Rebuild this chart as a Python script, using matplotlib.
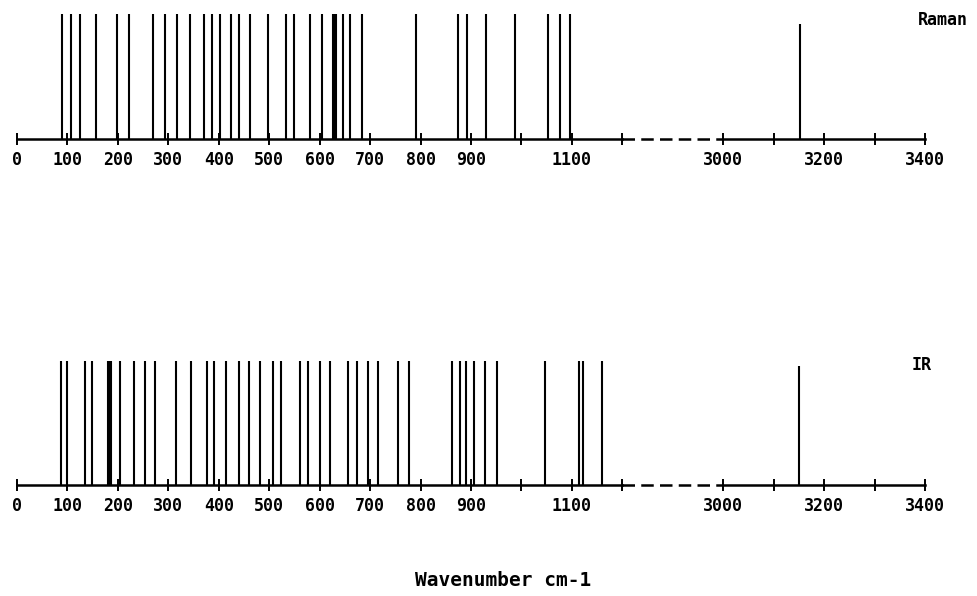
import numpy as np
from matplotlib import pyplot as plt

# line positions (cm-1), with relative heights
raman_wn = np.array([90, 107, 124, 156, 199, 222, 269, 293, 317, 342, 371, 387,
                     402, 424, 441, 462, 498, 534, 550, 580, 605, 626, 629, 632,
                     647, 660, 683, 790, 875, 892, 930, 987, 1053, 1077, 1097, 3153])
raman_int = np.ones(len(raman_wn))
raman_int[-1] = 0.92

ir_wn = np.array([87, 99, 135, 149, 180, 183, 187, 205, 232, 253, 274, 315, 345,
                  376, 390, 415, 440, 459, 482, 507, 524, 561, 576, 600, 621, 657,
                  675, 695, 716, 755, 778, 863, 879, 891, 906, 928, 951, 1047, 1115,
                  1123, 1160, 3151])
ir_int = np.ones(len(ir_wn))
ir_int[-1] = 0.96

tick_wn = [0, 100, 200, 300, 400, 500, 600, 700, 800, 900, 1000, 1100, 1200,
           3000, 3100, 3200, 3300, 3400]
tick_lab = ['0', '100', '200', '300', '400', '500', '600', '700', '800', '900', '',
            '1100', '', '3000', '', '3200', '', '3400']

def brk(x):
    # broken axis: 1200..3000 squeezed into a 200 wide gap
    x = np.asarray(x, dtype=float)
    return np.where(x <= 1200, x, x - 1600)

lab_font = dict(family='DejaVu Sans Mono', weight='bold', size=12)

fig = plt.figure(figsize=(9.78, 5.96), dpi=100)

def panel(rect, wn, inten, name, name_xy):
    ax = fig.add_axes(rect)
    ax.set_xlim(0, 1800)
    ax.set_ylim(0, 1)
    for s in ax.spines.values():
        s.set_visible(False)
    ax.vlines(brk(wn), 0, inten, color='k', lw=1.5, clip_on=False)
    ax.plot(brk([0, 1200]), [0, 0], color='k', lw=1.8, clip_on=False)
    ax.plot(brk([1200, 3000]), [0, 0], color='k', lw=1.8, ls=(0, (5, 2.5)), clip_on=False)
    ax.plot(brk([3000, 3400]), [0, 0], color='k', lw=1.8, clip_on=False)
    ax.set_yticks([])
    ax.set_xticks(brk(tick_wn))
    ax.set_xticklabels(tick_lab, fontdict=lab_font)
    ax.tick_params(axis='x', direction='inout', length=9, width=1.4, pad=4)
    ax.patch.set_visible(False)
    fig.text(name_xy[0], name_xy[1], name, ha='center', va='center', **lab_font)
    return ax

panel([17/978, 1 - 139/596, 908/978, 125/596], raman_wn, raman_int, 'Raman', (943/978, 1 - 20/596))
panel([17/978, 1 - 485/596, 908/978, 124/596], ir_wn, ir_int, 'IR', (922/978, 1 - 365/596))

fig.text(503/978, 1 - 580/596, 'Wavenumber cm-1', ha='center', va='center',
         family='DejaVu Sans Mono', weight='bold', size=14)

fig.savefig('out.png', dpi=100)
